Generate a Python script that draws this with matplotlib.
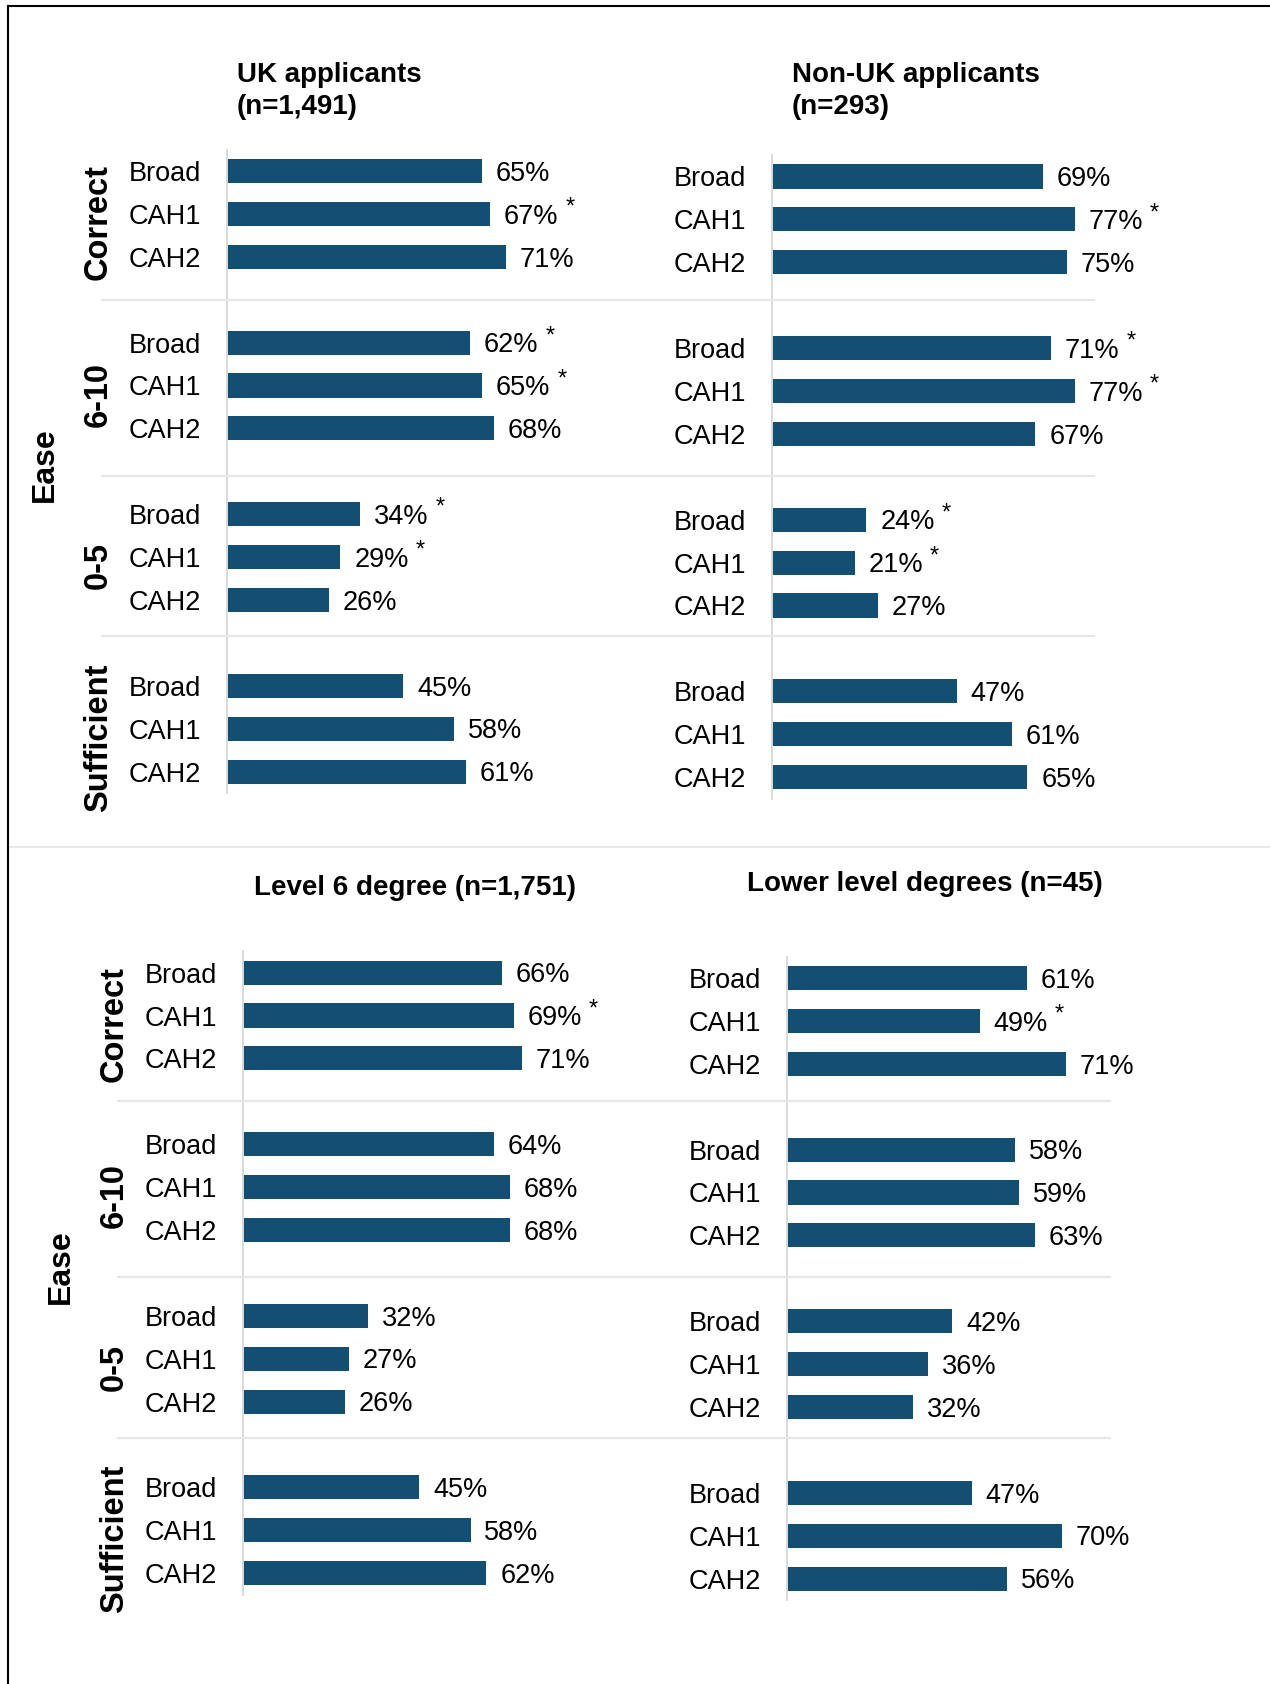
import matplotlib
matplotlib.use("Agg")
import matplotlib.pyplot as plt
from matplotlib.lines import Line2D
from matplotlib.transforms import blended_transform_factory

plt.rcParams['font.family'] = ['Liberation Sans', 'DejaVu Sans']

# dati
groups = ["Correct", "6-10", "0-5", "Sufficient"]
levels = ["Broad", "CAH1", "CAH2"]

uk_title = "UK applicants\n(n=1,491)"
uk_vals = [65, 67, 71, 62, 65, 68, 34, 29, 26, 45, 58, 61]
uk_star = [0, 1, 0, 1, 1, 0, 1, 1, 0, 0, 0, 0]

nonuk_title = "Non-UK applicants\n(n=293)"
nonuk_vals = [69, 77, 75, 71, 77, 67, 24, 21, 27, 47, 61, 65]
nonuk_star = [0, 1, 0, 1, 1, 0, 1, 1, 0, 0, 0, 0]

l6_title = "Level 6 degree (n=1,751)"
l6_vals = [66, 69, 71, 64, 68, 68, 32, 27, 26, 45, 58, 62]
l6_star = [0, 1, 0, 0, 0, 0, 0, 0, 0, 0, 0, 0]

low_title = "Lower level degrees (n=45)"
low_vals = [61, 49, 71, 58, 59, 63, 42, 36, 32, 47, 70, 56]
low_star = [0, 1, 0, 0, 0, 0, 0, 0, 0, 0, 0, 0]

W, H = 1270, 1684
BLUE = '#124f73'
UNIT = 42.9      # pixel per riga
PXPCT = 3.93     # pixel per punto percentuale

fig = plt.figure(figsize=(W / 100, H / 100), dpi=100)


def fx(px):
    return px / W


def fy(py):
    return 1 - py / H


# posizione y di ogni barra: 4 righe per gruppo (3 barre + spazio)
ypos = [g * 4 + i for g in range(len(groups)) for i in range(len(levels))]
ylabels = levels * len(groups)


def panel(x_axis, y_first, vals, stars, title, title_xy, side_labels):
    top = y_first - 0.5 * UNIT
    h = 15 * UNIT
    ax = fig.add_axes([fx(x_axis), fy(top + h), fx(100 * PXPCT), h / H])
    bars = ax.barh(ypos, vals, height=0.56, color=BLUE)
    ax.set_xlim(0, 100)
    ax.set_ylim(14.5, -0.5)
    for s in ['top', 'right', 'bottom']:
        ax.spines[s].set_visible(False)
    ax.spines['left'].set_color('#d9d9d9')
    ax.spines['left'].set_linewidth(1.4)
    ax.set_xticks([])
    ax.set_yticks(ypos)
    ax.set_yticklabels(ylabels, fontsize=19.5, ha='left')
    ax.tick_params(axis='y', length=0, pad=98 * 0.72)
    labs = ax.bar_label(bars, labels=[f"{v}%" for v in vals], padding=10, fontsize=19.5)
    for lab, st in zip(labs, stars):
        lab.xyann = (10, -2)
        if st:
            ax.annotate('*', xy=(1, 1), xycoords=lab, xytext=(7, -4),
                        textcoords='offset pixels', ha='left', va='center', fontsize=17)
    fig.text(fx(title_xy[0]), fy(title_xy[1]), title, fontsize=20, fontweight='bold',
             ha='left', va='center', linespacing=1.3)
    if side_labels:
        for gi, g in enumerate(groups):
            ax.annotate(g, xy=(0, gi * 4 + 1.2), xycoords=('axes fraction', 'data'),
                        xytext=(-128, 0), textcoords='offset pixels', rotation=90,
                        ha='center', va='center', fontsize=23.5, fontweight='bold')
        ax.annotate("Ease", xy=(0, 6.85), xycoords=('axes fraction', 'data'),
                    xytext=(-181.5, 0), textcoords='offset pixels', rotation=90,
                    ha='center', va='center', fontsize=23, fontweight='bold')
        # linee di separazione tra i gruppi, su entrambi i pannelli
        tr = blended_transform_factory(fig.transFigure, ax.transData)
        for yy in [3.0, 7.1, 10.85]:
            fig.add_artist(Line2D([fx(x_axis - 124.5), fx(x_axis + 867)], [yy, yy],
                                  transform=tr, color='#e6e6e6', lw=1.6))
    return ax


panel(226.5, 171.0, uk_vals, uk_star, uk_title, (237, 91), True)
panel(772.0, 176.5, nonuk_vals, nonuk_star, nonuk_title, (792, 91), False)
panel(242.6, 972.6, l6_vals, l6_star, l6_title, (254, 888), True)
panel(787.0, 978.0, low_vals, low_star, low_title, (747, 884), False)

# linea che divide le due metà
fig.add_artist(Line2D([fx(9), 1], [fy(847), fy(847)], color='#e6e6e6', lw=1.2))
# bordo sopra e a sinistra
fig.add_artist(Line2D([fx(7.5), 1], [fy(5.5), fy(5.5)], color='black', lw=1.5))
fig.add_artist(Line2D([fx(7.5), fx(7.5)], [fy(5.5), 0], color='black', lw=1.5))

fig.savefig("out.png", dpi=100)
